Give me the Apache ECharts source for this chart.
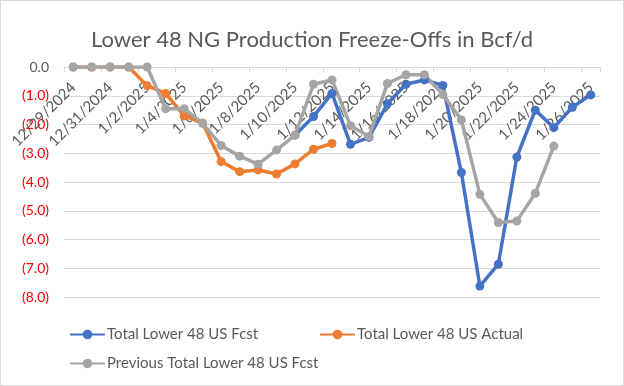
<!DOCTYPE html>
<html><head><meta charset="utf-8">
<script src="https://cdn.jsdelivr.net/npm/echarts@6/dist/echarts.min.js"></script>
<style>
html,body{margin:0;padding:0;background:#fff;}
#c{position:absolute;left:0;top:0;width:622px;height:384px;border:1px solid #d9d9d9;}
</style></head>
<body><div id="c"></div>
<script>
var categories = ["12/29/2024","12/30/2024","12/31/2024","1/1/2025","1/2/2025","1/3/2025","1/4/2025","1/5/2025","1/6/2025","1/7/2025","1/8/2025","1/9/2025","1/10/2025","1/11/2025","1/12/2025","1/13/2025","1/14/2025","1/15/2025","1/16/2025","1/17/2025","1/18/2025","1/19/2025","1/20/2025","1/21/2025","1/22/2025","1/23/2025","1/24/2025","1/25/2025","1/26/2025"];
var fcst = [null,null,null,null,null,null,null,null,null,null,null,null,-2.37,-1.72,-0.92,-2.69,-2.45,-1.28,-0.6,-0.45,-0.64,-3.67,-7.62,-6.86,-3.13,-1.5,-2.11,-1.4,-0.97];
var actual = [0,0,0,0,-0.65,-0.92,-1.7,-1.95,-3.29,-3.64,-3.58,-3.72,-3.37,-2.86,-2.66,null,null,null,null,null,null,null,null,null,null,null,null,null,null];
var prevFcst = [0,0,0,0,0,-1.45,-1.45,-1.96,-2.73,-3.1,-3.38,-2.89,-2.37,-0.6,-0.45,-2.04,-2.42,-0.57,-0.27,-0.27,-0.96,-1.84,-4.43,-5.41,-5.36,-4.39,-2.75,null,null];
var seriesNames = ["Total Lower 48 US Fcst","Total Lower 48 US Actual","Previous Total Lower 48 US Fcst"];
var colors = ["#4472C4","#ED7D31","#A5A5A5"];
var FONT = "Lato";

var chart = echarts.init(document.getElementById('c'));
function mk(name, data, color){
  return {name:name,type:'line',data:data,color:color,symbol:'circle',symbolSize:9,
    lineStyle:{width:3.5,color:color},itemStyle:{color:color},connectNulls:false,animation:false};
}
var legText = {fontFamily:FONT,fontSize:15,color:'#595959',padding:[0,0,0,-3]};
chart.setOption({
  animation:false,
  textStyle:{fontFamily:FONT},
  title:{text:"Lower 48 NG Production Freeze-Offs in Bcf/d",left:'center',top:23,
    textStyle:{fontFamily:FONT,fontSize:22,fontWeight:'normal',color:'#595959'}},
  grid:{left:63,right:23,top:66,bottom:88,containLabel:false},
  legend:[
    {data:[seriesNames[0]],left:63,top:321,itemWidth:35,itemHeight:12,textStyle:legText},
    {data:[seriesNames[1]],left:313,top:321,itemWidth:35,itemHeight:12,textStyle:legText},
    {data:[seriesNames[2]],left:63,top:350,itemWidth:35,itemHeight:12,textStyle:legText}
  ],
  xAxis:{type:'category',data:categories,boundaryGap:true,position:'top',
    axisLine:{onZero:false,lineStyle:{color:'#d9d9d9',width:1}},
    axisTick:{show:true,inside:true,interval:1,length:5,lineStyle:{color:'#d9d9d9'}},
    axisLabel:{inside:true,interval:1,rotate:-45,align:'right',verticalAlign:'middle',margin:18,fontFamily:FONT,fontSize:15,color:'#595959'},
    splitLine:{show:false}},
  yAxis:{type:'value',min:-8,max:0,interval:1,
    axisLine:{show:false},axisTick:{show:false},
    splitLine:{lineStyle:{color:'#d9d9d9',width:1}},
    axisLabel:{margin:15,fontFamily:FONT,fontSize:14,
      formatter:function(v){ if(v===0) return '{g|0.0}'; return '{r|(' + Math.abs(v).toFixed(1) + ')}'; },
      rich:{g:{color:'#595959',fontFamily:FONT,fontSize:14},r:{color:'#FF0000',fontFamily:FONT,fontSize:14}}}},
  series:[mk(seriesNames[0],fcst,colors[0]),mk(seriesNames[1],actual,colors[1]),mk(seriesNames[2],prevFcst,colors[2])]
});
</script></body></html>
